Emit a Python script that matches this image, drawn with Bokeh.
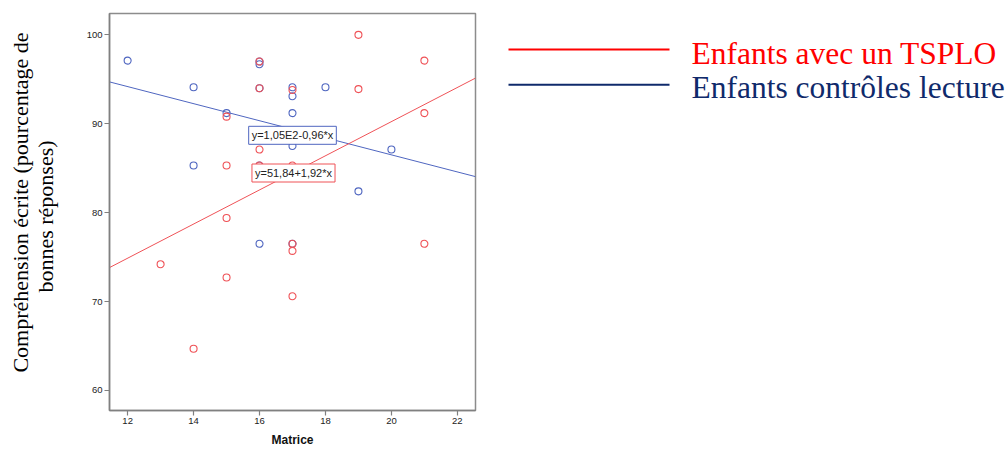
import numpy as np
from math import pi
from bokeh.plotting import figure
from bokeh.layouts import row
from bokeh.models import Label, Range1d
from bokeh.embed import file_html
from bokeh.resources import INLINE

# ---- data ----
red_x = [13, 14, 15, 15, 15, 15, 16, 16, 16, 16, 17, 17, 17, 17, 17, 19, 19, 21, 21, 21]
red_y = [74.2, 64.7, 85.3, 90.8, 79.4, 72.7, 97.0, 94.0, 87.1, 85.3, 93.8, 85.3, 76.5, 75.7, 70.6,
         100.0, 93.9, 97.1, 91.2, 76.5]
blue_x = [12, 14, 14, 15, 16, 16, 16, 16, 16, 17, 17, 17, 17, 17, 18, 19, 20]
blue_y = [97.1, 94.1, 85.3, 91.2, 97.0, 96.7, 94.0, 85.3, 76.5, 94.1, 93.1, 91.2, 87.5, 76.5,
          94.1, 82.4, 87.1]

red_fit = [51.84, 1.92]      # intercept, slope
blue_fit = [105.7, -0.96]
red_eq = "y=51,84+1,92*x"
blue_eq = "y=1,05E2-0,96*x"
x_ticks = [12, 14, 16, 18, 20, 22]
y_ticks = [60, 70, 80, 90, 100]
legend_labels = ["Enfants avec un TSPLO", "Enfants contrôles lecture"]
x_title = "Matrice"
y_title = ["Compréhension écrite (pourcentage de", "bonnes réponses)"]

# ---- styling / layout (pixels) ----
RED = "#EF5257"
BLUE = "#4F66C0"
LEG_RED = "#FF0000"
LEG_BLUE = "#0F2A6B"

H = 449
TOP, BOTTOM = 13, 410            # frame top / bottom
W_LEFT = 70                      # y-title panel
W_PLOT = 420                     # scatter plot panel
W_LEG = 1008 - W_LEFT - W_PLOT   # legend panel
XR = (11.45, 22.55)
YR = (57.75, 102.4)


def panel(width, x_start):
    # blank panel whose data units are the picture's pixels
    f = figure(width=width, height=H, output_backend="svg", toolbar_location=None,
               x_axis_location=None, y_axis_location=None,
               min_border_left=0, min_border_right=0,
               min_border_top=TOP, min_border_bottom=H - BOTTOM,
               x_range=Range1d(x_start, x_start + width),
               y_range=Range1d(BOTTOM, TOP))
    f.xgrid.visible = False
    f.ygrid.visible = False
    f.outline_line_color = None
    f.background_fill_color = "white"
    f.border_fill_color = "white"
    return f


# --- y title panel ---
yl = panel(W_LEFT, 0)
for txt, cx, cy in ((y_title[0], 20, 202), (y_title[1], 45, 216)):
    yl.add_layout(Label(x=cx, y=cy, text=txt, angle=pi / 2, text_align="center",
                        text_baseline="middle", text_font="Liberation Serif",
                        text_font_size="22px", text_color="#000000"))

# --- scatter plot ---
p = figure(width=W_PLOT, height=H, x_range=XR, y_range=YR,
           output_backend="svg", toolbar_location=None,
           min_border_left=109 - W_LEFT, min_border_right=W_LEFT + W_PLOT - 475,
           min_border_top=TOP, min_border_bottom=H - BOTTOM)
p.xgrid.visible = False
p.ygrid.visible = False
p.outline_line_color = "#8c8c8c"
p.outline_line_width = 1.5
p.background_fill_color = "white"
p.border_fill_color = "white"

for ax, ticks in ((p.xaxis, x_ticks), (p.yaxis, y_ticks)):
    ax.ticker = ticks
    ax.minor_tick_line_color = None
    ax.axis_line_color = "#808080"
    ax.axis_line_width = 1.5
    ax.major_tick_line_color = "#808080"
    ax.major_tick_line_width = 1.2
    ax.major_tick_in = 0
    ax.major_tick_out = 5
    ax.major_label_text_font = "Liberation Sans"
    ax.major_label_text_font_size = "9.5px"
    ax.major_label_text_color = "#222222"
    ax.major_label_standoff = 2

p.xaxis.axis_label = x_title
p.xaxis.axis_label_text_font = "Liberation Sans"
p.xaxis.axis_label_text_font_style = "bold"
p.xaxis.axis_label_text_font_size = "12px"
p.xaxis.axis_label_text_line_height = 1.0
p.xaxis.axis_label_text_color = "#111111"
p.xaxis.axis_label_standoff = 6

# regression lines
xf = np.array(XR)
p.line(xf, blue_fit[0] + blue_fit[1] * xf, line_color=BLUE, line_width=1)
p.line(xf, red_fit[0] + red_fit[1] * xf, line_color=RED, line_width=1)

# points
p.scatter(blue_x, blue_y, marker="circle", size=7, fill_color=None,
          line_color=BLUE, line_width=1.1)
p.scatter(red_x, red_y, marker="circle", size=7, fill_color=None,
          line_color=RED, line_width=1.1)

# equation boxes
p.add_layout(Label(x=17.0, y=88.7, text=blue_eq, text_align="center",
                   text_baseline="middle", text_font="Liberation Sans",
                   text_font_size="11px", text_color="#222222",
                   border_line_color=BLUE, border_line_width=1,
                   background_fill_color="white", padding=3))
p.add_layout(Label(x=17.03, y=84.46, text=red_eq, text_align="center",
                   text_baseline="middle", text_font="Liberation Sans",
                   text_font_size="11px", text_color="#222222",
                   border_line_color=RED, border_line_width=1,
                   background_fill_color="white", padding=3))

# --- legend panel (swatch line + coloured label per group) ---
q = panel(W_LEG, W_LEFT + W_PLOT)
leg_line_x = (508, 669)
leg_text_x = 691
for lab, col, ly, ty in ((legend_labels[0], LEG_RED, 49, 52.5),
                         (legend_labels[1], LEG_BLUE, 84.3, 86.5)):
    q.segment(x0=[leg_line_x[0]], x1=[leg_line_x[1]], y0=[ly], y1=[ly],
              line_color=col, line_width=2)
    q.add_layout(Label(x=leg_text_x, y=ty, text=lab, text_align="left",
                       text_baseline="middle", text_font="Liberation Serif",
                       text_font_size="31.5px", text_color=col))

layout = row(yl, p, q, spacing=0)
open("out.html", "w").write(file_html(layout, INLINE))
